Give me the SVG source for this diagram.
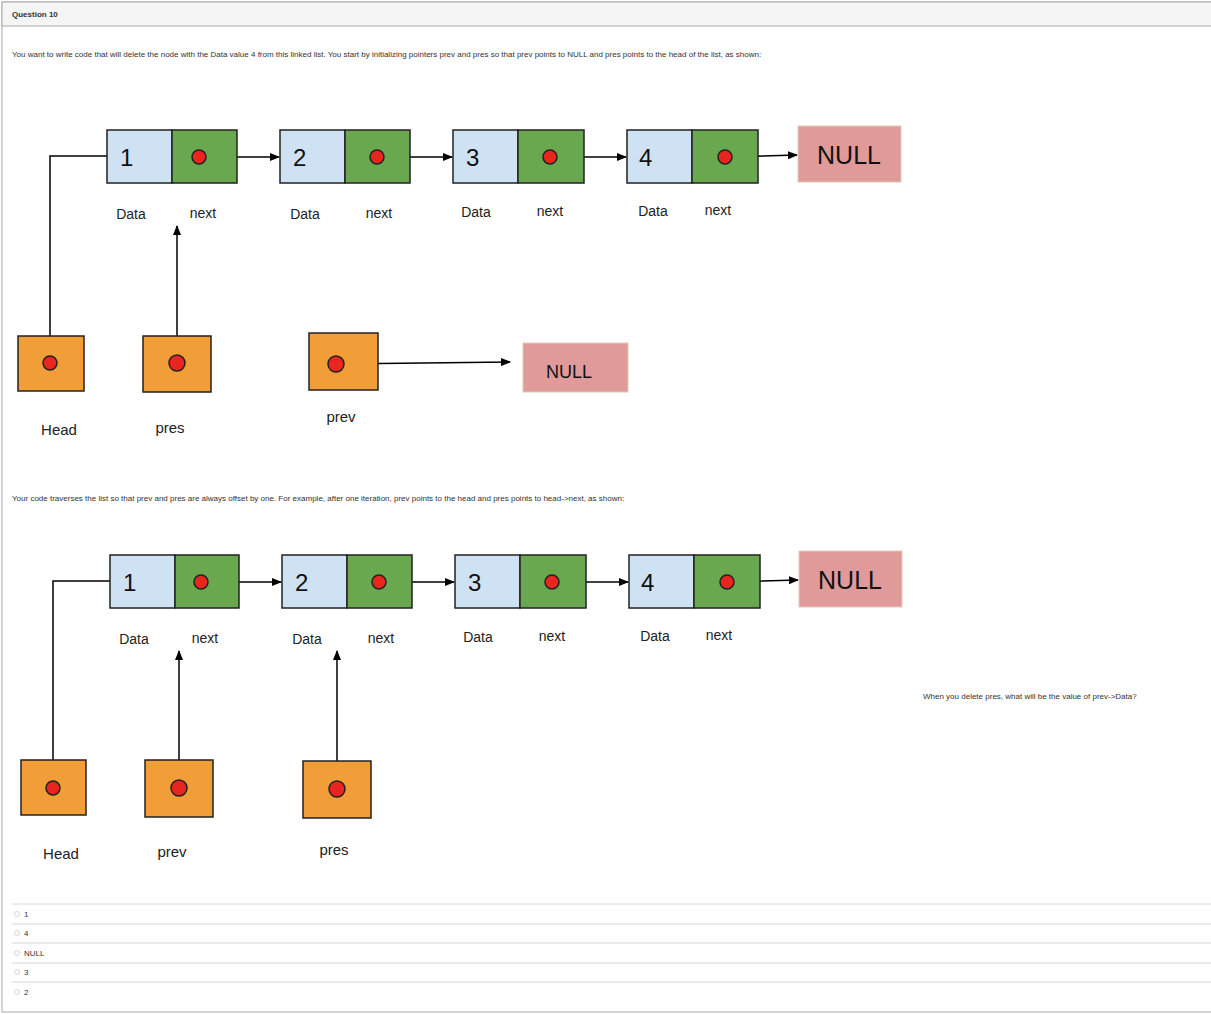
<svg xmlns="http://www.w3.org/2000/svg" width="1211" height="1014" viewBox="0 0 1211 1014">
<defs>
<marker id="ah" markerWidth="10" markerHeight="8" refX="9" refY="4" orient="auto" markerUnits="userSpaceOnUse"><path d="M0,0 L10,4 L0,8 z" fill="#000"/></marker>
<style>
.d{fill:#cfe2f3;stroke:#222;stroke-width:1.5}
.n{fill:#6aa84f;stroke:#222;stroke-width:1.5}
.nul{fill:#e09a9a;stroke:#dcb;stroke-width:1}
.o{fill:#f19e38;stroke:#222;stroke-width:1.5}
.dot{fill:#e8251e;stroke:#222;stroke-width:1.5}
.ln{stroke:#000;stroke-width:1.5;fill:none}
.num{font-family:"Liberation Sans",Arial,sans-serif;font-size:24px;fill:#111}
.nt{font-family:"Liberation Sans",Arial,sans-serif;font-size:25px;fill:#111}
.lb{font-family:"Liberation Sans",Arial,sans-serif;font-size:14px;fill:#222;text-anchor:middle}
.lb2{font-family:"Liberation Sans",Arial,sans-serif;font-size:15px;fill:#222;text-anchor:middle}
.t{font-family:"Liberation Sans",Arial,sans-serif;font-size:8px;fill:#333}
.rl{stroke:#d8d8d8;stroke-width:1}
</style>
</defs>
<rect x="0" y="0" width="1211" height="1014" fill="#fff"/>
<rect x="2" y="2" width="1212" height="1010" fill="#fff" stroke="#aaa"/>
<rect x="2" y="2" width="1212" height="24" fill="#f5f5f5" stroke="#aaa"/>
<text class="t" x="12" y="17" font-weight="bold" font-size="9">Question 10</text>
<text class="t" x="12" y="57">You want to write code that will delete the node with the Data value 4 from this linked list. You start by initializing pointers prev and pres so that prev points to NULL and pres points to the head of the list, as shown:</text>
<text class="t" x="12" y="501">Your code traverses the list so that prev and pres are always offset by one. For example, after one iteration, prev points to the head and pres points to head-&gt;next, as shown:</text>
<text class="t" x="923" y="699">When you delete pres, what will be the value of prev-&gt;Data?</text>

<g id="connectors">
<polyline class="ln" points="50,363 50,156 107,156"/>
<line class="ln" x1="177" y1="363" x2="177" y2="226" marker-end="url(#ah)"/>
<line class="ln" x1="336" y1="364" x2="510" y2="362" marker-end="url(#ah)"/>
<line class="ln" x1="199" y1="157" x2="279" y2="157" marker-end="url(#ah)"/>
<line class="ln" x1="377" y1="157" x2="452" y2="157" marker-end="url(#ah)"/>
<line class="ln" x1="550" y1="157" x2="626" y2="157" marker-end="url(#ah)"/>
<line class="ln" x1="725" y1="157" x2="797" y2="155" marker-end="url(#ah)"/>
<polyline class="ln" points="53,788 53,581 110,581"/>
<line class="ln" x1="179" y1="788" x2="179" y2="651" marker-end="url(#ah)"/>
<line class="ln" x1="337" y1="788" x2="337" y2="651" marker-end="url(#ah)"/>
<line class="ln" x1="201" y1="582" x2="281" y2="582" marker-end="url(#ah)"/>
<line class="ln" x1="379" y1="582" x2="454" y2="582" marker-end="url(#ah)"/>
<line class="ln" x1="552" y1="582" x2="628" y2="582" marker-end="url(#ah)"/>
<line class="ln" x1="727" y1="582" x2="798" y2="580" marker-end="url(#ah)"/>
</g>

<g id="top-node1"><rect class="d" x="107" y="130" width="65" height="53"/><rect class="n" x="172" y="130" width="65" height="53"/><circle class="dot" cx="199" cy="157" r="7"/><text class="num" x="120" y="166">1</text><text class="lb" x="131" y="219">Data</text><text class="lb" x="203" y="218">next</text></g>
<g id="top-node2"><rect class="d" x="280" y="130" width="65" height="53"/><rect class="n" x="345" y="130" width="65" height="53"/><circle class="dot" cx="377" cy="157" r="7"/><text class="num" x="293" y="166">2</text><text class="lb" x="305" y="219">Data</text><text class="lb" x="379" y="218">next</text></g>
<g id="top-node3"><rect class="d" x="453" y="130" width="65" height="53"/><rect class="n" x="518" y="130" width="66" height="53"/><circle class="dot" cx="550" cy="157" r="7"/><text class="num" x="466" y="166">3</text><text class="lb" x="476" y="217">Data</text><text class="lb" x="550" y="216">next</text></g>
<g id="top-node4"><rect class="d" x="627" y="130" width="65" height="53"/><rect class="n" x="692" y="130" width="66" height="53"/><circle class="dot" cx="725" cy="157" r="7"/><text class="num" x="639" y="166">4</text><text class="lb" x="653" y="216">Data</text><text class="lb" x="718" y="215">next</text></g>
<g id="top-null"><rect class="nul" x="798" y="126" width="103" height="56"/><text class="nt" x="849" y="164" text-anchor="middle">NULL</text></g>
<g id="top-head"><rect class="o" x="18" y="336" width="66" height="55"/><circle class="dot" cx="50" cy="363" r="7"/><text class="lb2" x="59" y="435">Head</text></g>
<g id="top-pres"><rect class="o" x="143" y="336" width="68" height="56"/><circle class="dot" cx="177" cy="363" r="8"/><text class="lb2" x="170" y="433">pres</text></g>
<g id="top-prev"><rect class="o" x="309" y="333" width="69" height="57"/><circle class="dot" cx="336" cy="364" r="8"/><text class="lb2" x="341" y="422">prev</text></g>
<g id="top-null2"><rect class="nul" x="523" y="343" width="105" height="49"/><text x="569" y="378" text-anchor="middle" font-family="Liberation Sans,Arial,sans-serif" font-size="18" fill="#111">NULL</text></g>

<g id="bot-node1"><rect class="d" x="110" y="555" width="65" height="53"/><rect class="n" x="175" y="555" width="64" height="53"/><circle class="dot" cx="201" cy="582" r="7"/><text class="num" x="123" y="591">1</text><text class="lb" x="134" y="644">Data</text><text class="lb" x="205" y="643">next</text></g>
<g id="bot-node2"><rect class="d" x="282" y="555" width="65" height="53"/><rect class="n" x="347" y="555" width="65" height="53"/><circle class="dot" cx="379" cy="582" r="7"/><text class="num" x="295" y="591">2</text><text class="lb" x="307" y="644">Data</text><text class="lb" x="381" y="643">next</text></g>
<g id="bot-node3"><rect class="d" x="455" y="555" width="65" height="53"/><rect class="n" x="520" y="555" width="66" height="53"/><circle class="dot" cx="552" cy="582" r="7"/><text class="num" x="468" y="591">3</text><text class="lb" x="478" y="642">Data</text><text class="lb" x="552" y="641">next</text></g>
<g id="bot-node4"><rect class="d" x="629" y="555" width="65" height="53"/><rect class="n" x="694" y="555" width="66" height="53"/><circle class="dot" cx="727" cy="582" r="7"/><text class="num" x="641" y="591">4</text><text class="lb" x="655" y="641">Data</text><text class="lb" x="719" y="640">next</text></g>
<g id="bot-null"><rect class="nul" x="799" y="551" width="103" height="56"/><text class="nt" x="850" y="589" text-anchor="middle">NULL</text></g>
<g id="bot-head"><rect class="o" x="21" y="760" width="65" height="55"/><circle class="dot" cx="53" cy="788" r="7"/><text class="lb2" x="61" y="859">Head</text></g>
<g id="bot-prev"><rect class="o" x="145" y="760" width="68" height="57"/><circle class="dot" cx="179" cy="788" r="8"/><text class="lb2" x="172" y="857">prev</text></g>
<g id="bot-pres"><rect class="o" x="303" y="761" width="68" height="57"/><circle class="dot" cx="337" cy="789" r="8"/><text class="lb2" x="334" y="855">pres</text></g>

<g id="answers">
<line class="rl" x1="12" y1="904" x2="1211" y2="904"/>
<line class="rl" x1="12" y1="924" x2="1211" y2="924"/>
<line class="rl" x1="12" y1="943" x2="1211" y2="943"/>
<line class="rl" x1="12" y1="963" x2="1211" y2="963"/>
<line class="rl" x1="12" y1="982" x2="1211" y2="982"/>
<g fill="#fff" stroke="#ccc" stroke-width="0.8"><circle cx="17" cy="914" r="2.5"/><circle cx="17" cy="933" r="2.5"/><circle cx="17" cy="953" r="2.5"/><circle cx="17" cy="972" r="2.5"/><circle cx="17" cy="992" r="2.5"/></g>
<text class="t" x="24" y="917">1</text><text class="t" x="24" y="936">4</text><text class="t" x="24" y="956">NULL</text><text class="t" x="24" y="975">3</text><text class="t" x="24" y="995">2</text>
</g>
</svg>
